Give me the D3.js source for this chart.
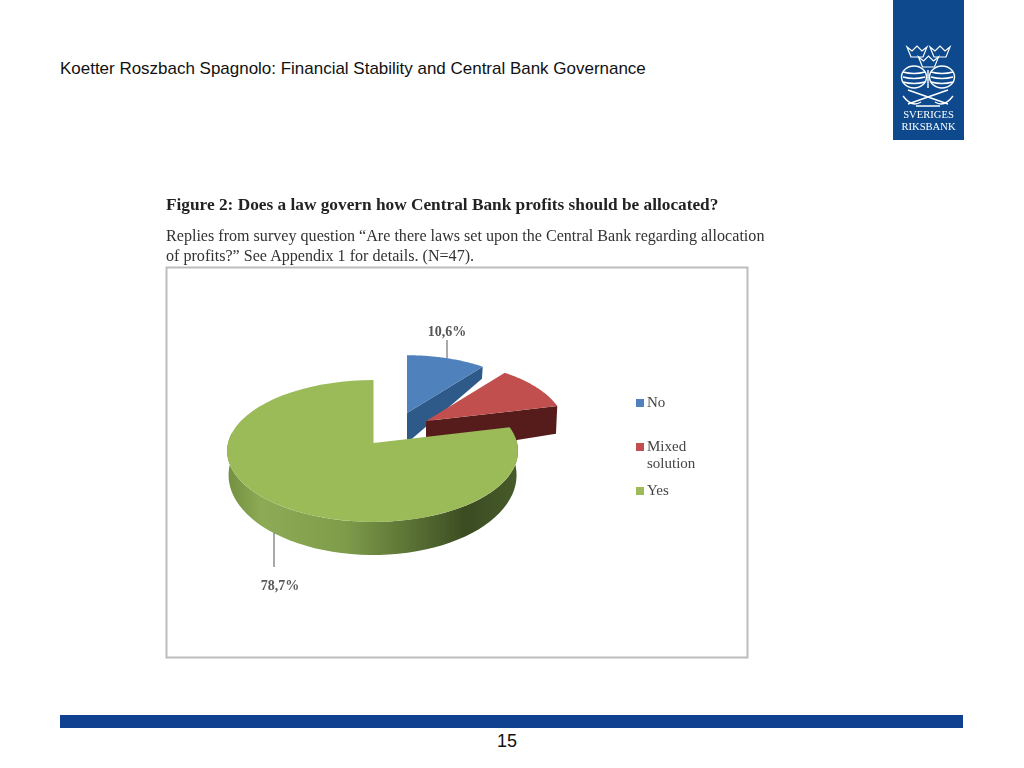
<!DOCTYPE html>
<html><head><meta charset="utf-8">
<script src="https://cdn.jsdelivr.net/npm/d3@7"></script>
<style>html,body{margin:0;padding:0;background:#fff;overflow:hidden}svg{display:block}</style>
</head><body><svg id="c" width="1024" height="768"></svg>
<script>
const categories = ["No", "Mixed solution", "Yes"];
const seriesValues = [10.6, 10.7, 78.7];
const valueLabels = ["10,6%", "", "78,7%"];
const sliceColors = ["#4f81bd", "#c0504d", "#9bbb59"];
const sideColors = ["#2f5a8a", "#571f1e", "#6f8c3c"];
const slideTitle = "Koetter Roszbach Spagnolo: Financial Stability and Central Bank Governance";
const figureTitle = "Figure 2: Does a law govern how Central Bank profits should be allocated?";
const figureNote = ["Replies from survey question \u201cAre there laws set upon the Central Bank regarding allocation", "of profits?\u201d See Appendix 1 for details. (N=47)."];
const pageNumber = "15";

const svg = d3.select("#c");
const defs = svg.append("defs");
defs.append("filter").attr("id","soft").append("feGaussianBlur").attr("stdDeviation",0.4);
const wall = defs.append("linearGradient").attr("id","wall");
[[0,"#72903f"],[0.12,"#8dab56"],[0.4,"#7f9c4b"],[0.62,"#5c7435"],[0.82,"#3c4c23"],[1,"#475b2a"]]
 .forEach(d=>wall.append("stop").attr("offset",d[0]).attr("stop-color",d[1]));

const sans = "'Liberation Sans',Arial,sans-serif", serif = "'Liberation Serif',serif";

svg.append("text").attr("x",60).attr("y",74).attr("font-family",sans).attr("font-size",16.98).attr("fill","#111").text(slideTitle);

// bottom rule + page number
svg.append("rect").attr("x",60).attr("y",715).attr("width",903).attr("height",13).attr("fill","#0f4190");
svg.append("text").attr("x",507).attr("y",747).attr("text-anchor","middle").attr("font-family",sans).attr("font-size",18).attr("fill","#111").text(pageNumber);

// logo
const logo = svg.append("g").attr("filter","url(#soft)");
logo.append("rect").attr("x",893).attr("y",0).attr("width",71).attr("height",140).attr("fill","#0b4a8c");
const crown = (x,y)=>logo.append("path").attr("fill","none").attr("stroke","#fff").attr("stroke-width",1.2)
  .attr("d",`M${x-10} ${y-5}L${x-6} ${y+5}H${x+6}L${x+10} ${y-5}L${x+5} ${y-1}L${x} ${y-6}L${x-5} ${y-1}Z`);
crown(917,52);crown(940,52);crown(928.5,62);
const em = logo.append("g").attr("fill","none").attr("stroke","#fff").attr("stroke-width",1.4);
[[914,77],[942,77]].forEach(([x,y])=>{
  em.append("ellipse").attr("cx",x).attr("cy",y).attr("rx",12.5).attr("ry",11);
  [-5,0,5].forEach(o=>em.append("path").attr("d",`M${x-11} ${y+o}Q${x} ${y+o+3} ${x+11} ${y+o}`));
});
em.append("path").attr("d","M908 90L948 104M948 90L908 104M903 96Q912 108 921 102M953 96Q944 108 935 102M928 70V88M916 106H940");
logo.selectAll("text.l").data(["SVERIGES","RIKSBANK"]).enter().append("text")
  .attr("x",928.5).attr("y",(d,i)=>118+i*12).attr("text-anchor","middle").attr("font-family",serif)
  .attr("font-size",10.6).attr("fill","#fff").text(d=>d);

// embedded figure
const fig = svg.append("g").attr("filter","url(#soft)");
fig.append("text").attr("x",166).attr("y",210).attr("font-family",serif).attr("font-weight","bold").attr("font-size",17.3).attr("fill","#222").text(figureTitle);
fig.selectAll("text.n").data(figureNote).enter().append("text").attr("x",166).attr("y",(d,i)=>241+i*20)
  .attr("font-family",serif).attr("font-size",16.1).attr("fill","#333").text(d=>d);
fig.append("rect").attr("x",166.5).attr("y",267.5).attr("width",581).attr("height",390).attr("fill","#fff").attr("stroke","#bdbdbd").attr("stroke-width",2);

// pie
const pieGen = d3.pie().sort(null).startAngle(0).endAngle(2*Math.PI);
const arcs = pieGen(seriesValues);
const RX = 145.5, RY = 70, D = 8.875;
// per-slice placement: apex, radius factor, wall height at centre, wall height slope, right-hand width factor
const place = [
  {ax:407, ay:413, r:0.91, h0:30, h1:27, xr:1},
  {ax:426, ay:421, r:0.95, h0:34, h1:30, xr:1},
  {ax:373.5, ay:443, r:1.00, h0:23, h1:9, xr:0.987}
];
function pt(p, a, r, bottom){
  const u = r*p.r*Math.sin(a), v = -r*p.r*Math.cos(a), s = D/(D-v);
  const x = p.ax + RX*u*s*(bottom?0.99:1)*(u>0?p.xr:1);
  const y = p.ay + RY*v*s + (bottom ? p.h0 + p.h1*v*s : 0);
  return [x,y];
}
const line = d3.line();
const steps = (a,b)=>d3.range(0,61).map(i=>a+(b-a)*i/60);
const pieG = fig.append("g");
arcs.forEach((d,i)=>{
  const p = place[i];
  if(i<2){
    pieG.append("path").attr("fill",sideColors[i]).attr("d",line([pt(p,d.endAngle,0,false),pt(p,d.endAngle,1,false),pt(p,d.endAngle,1,true),pt(p,d.endAngle,0,true)])+"Z");
  } else {
    const A = steps(d.startAngle,1.55*Math.PI);
    pieG.append("path").attr("fill","url(#wall)")
      .attr("d",line(A.map(a=>pt(p,a,1,false)).concat(A.slice().reverse().map(a=>pt(p,a,1,true))))+"Z");
  }
  const top = [pt(p,0,0,false)].concat(steps(d.startAngle,d.endAngle).map(a=>pt(p,a,1,false)));
  pieG.append("path").attr("fill",sliceColors[i]).attr("d",line(top)+"Z");
});

// data labels with leader lines
const leaderA = [447, null, 274], leaderB = [[340,358],null,[533,567]], labelY=[336,null,590], labelX=[447,null,280];
valueLabels.forEach((t,i)=>{
  if(!t) return;
  fig.append("line").attr("x1",leaderA[i]).attr("x2",leaderA[i]).attr("y1",leaderB[i][0]).attr("y2",leaderB[i][1]).attr("stroke","#555").attr("stroke-width",1);
  fig.append("text").attr("x",labelX[i]).attr("y",labelY[i]).attr("text-anchor","middle").attr("font-family",serif)
    .attr("font-weight","bold").attr("font-size",14).attr("fill",i==0?"#555":"#5a5a5a").text(t);
});

// legend
const ly = d3.scalePoint().domain(categories).range([402,490]);
const leg = fig.selectAll("g.leg").data(categories).enter().append("g");
leg.append("rect").attr("x",636).attr("y",d=>ly(d)-3).attr("width",8).attr("height",8).attr("fill",(d,i)=>sliceColors[i]);
leg.each(function(d){
  const words = d.split(" ");
  d3.select(this).selectAll("text").data(words).enter().append("text").attr("x",647).attr("y",(w,j)=>ly(d)+4.5+j*17)
   .attr("font-family",serif).attr("font-size",15).attr("fill","#444").text(w=>w);
});
</script></body></html>
